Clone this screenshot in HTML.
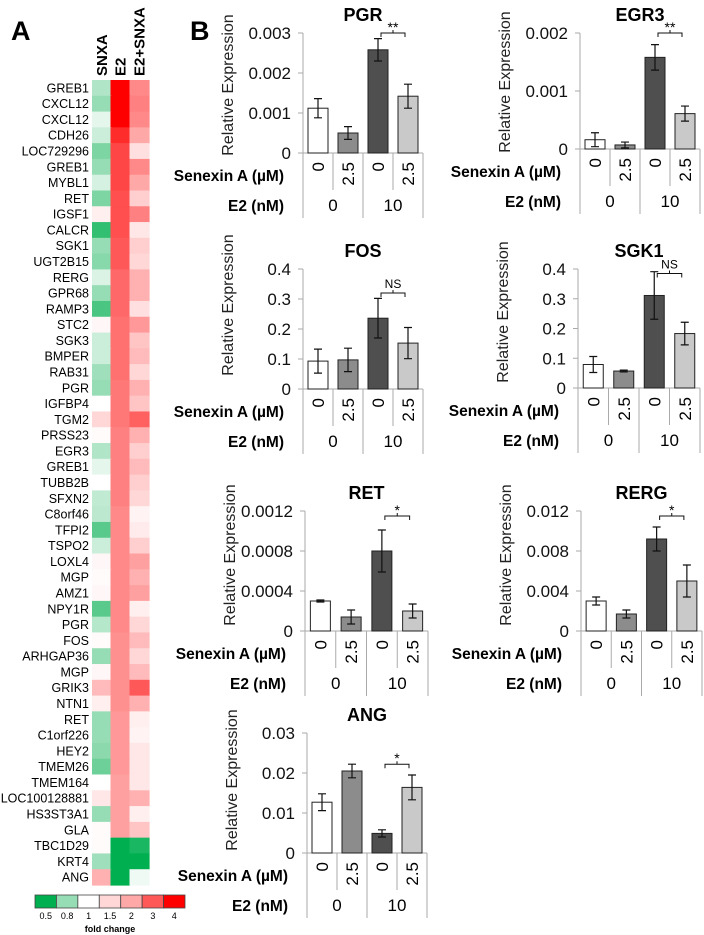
<!DOCTYPE html>
<html><head><meta charset="utf-8">
<style>
html,body{margin:0;padding:0;background:#fff;}
svg{display:block;font-family:"Liberation Sans",Arial,sans-serif;}
</style></head>
<body>
<svg id="fig" width="704" height="935" viewBox="0 0 704 935" xmlns="http://www.w3.org/2000/svg">
<text x="11" y="40" font-size="27" font-weight="bold">A</text>
<text x="190" y="40" font-size="27" font-weight="bold">B</text>
<g id="heat"></g>
<g id="charts"></g>
</svg>
<script>
const NS="http://www.w3.org/2000/svg";
// ---------- Heatmap data ----------
const heatGenes=["GREB1","CXCL12","CXCL12","CDH26","LOC729296","GREB1","MYBL1","RET","IGSF1","CALCR","SGK1","UGT2B15","RERG","GPR68","RAMP3","STC2","SGK3","BMPER","RAB31","PGR","IGFBP4","TGM2","PRSS23","EGR3","GREB1","TUBB2B","SFXN2","C8orf46","TFPI2","TSPO2","LOXL4","MGP","AMZ1","NPY1R","PGR","FOS","ARHGAP36","MGP","GRIK3","NTN1","RET","C1orf226","HEY2","TMEM26","TMEM164","LOC100128881","HS3ST3A1","GLA","TBC1D29","KRT4","ANG"];
const heatColumns=["SNXA","E2","E2+SNXA"];
const snxaFold=[0.85,0.8,0.95,0.9,0.75,0.8,0.92,0.75,1.2,0.6,0.8,0.77,0.93,0.8,0.65,1.1,0.9,0.9,0.82,0.8,1.0,1.5,1.05,0.85,0.95,1.0,0.88,0.87,0.68,0.9,1.1,1.05,1.1,0.68,0.86,1.05,0.8,1.1,1.8,1.2,0.8,0.8,0.78,0.72,1.0,1.3,0.8,1.05,1.05,0.82,1.9];
const e2Fold=[4,4,4,3.5,3.2,3.2,3.2,3.1,3.1,3.1,3.0,3.0,2.8,2.8,2.8,2.7,2.7,2.7,2.7,2.6,2.6,2.6,2.5,2.5,2.5,2.5,2.5,2.4,2.4,2.4,2.4,2.4,2.4,2.4,2.4,2.3,2.3,2.3,2.3,2.3,2.2,2.2,2.2,2.2,2.1,2.1,2.1,2.1,0.5,0.5,0.5];
const e2snxaFold=[2.4,2.5,2.4,2,1.4,2.4,2,1.6,2.5,1.3,1.6,1.5,1.9,1.9,1.4,2.2,1.7,1.8,1.5,1.9,1.7,2.9,1.9,1.6,1.8,1.6,1.5,1.15,1.25,1.6,2.1,1.9,2.1,1.2,1.5,1.8,1.5,1.8,3.0,1.9,1.2,1.15,1.3,1.3,1.3,1.9,1.2,1.7,0.55,0.5,0.97];
const legendStops=[0.5,0.8,1,1.5,2,3,4];
const legendLabels=["0.5","0.8","1","1.5","2","3","4"];
const stopColors=[[0,176,80],[150,220,180],[255,255,255],[255,215,215],[255,168,168],[255,88,88],[255,0,0]];

function foldColor(v){
  if(v<=legendStops[0]) return "rgb("+stopColors[0].join(",")+")";
  for(let i=1;i<legendStops.length;i++){
    if(v<=legendStops[i]){
      const t=(v-legendStops[i-1])/(legendStops[i]-legendStops[i-1]);
      const a=stopColors[i-1],b=stopColors[i];
      return "rgb("+a.map((c,k)=>Math.round(c+(b[k]-c)*t)).join(",")+")";
    }
  }
  return "rgb(255,0,0)";
}
function mk(tag,attrs,parent,txt){
  const e=document.createElementNS(NS,tag);
  for(const k in attrs) e.setAttribute(k,attrs[k]);
  if(txt!==undefined) e.textContent=txt;
  parent.appendChild(e);return e;
}
const heat=document.getElementById("heat");
const hTop=80,hRow=(885-80)/heatGenes.length,colX=[92,110.5,129.5],colW=19.5;
const series=[snxaFold,e2Fold,e2snxaFold];
heatColumns.forEach((c,j)=>{
  const t=mk("text",{x:0,y:0,"font-size":15,"font-weight":"bold",transform:`translate(${colX[j]+colW/2+5},76) rotate(-90)`},heat,c);
  
  
});
heatGenes.forEach((g,i)=>{
  const y=hTop+i*hRow;
  const t=mk("text",{x:89,y:y+hRow/2+4.5,"font-size":12.5,"text-anchor":"end"},heat,g);
  
  
  series.forEach((s,j)=>{
    const r=mk("rect",{x:colX[j],y:y,width:colW+0.6,height:hRow+0.6,fill:foldColor(s[i])},heat);
    
    
  });
});
// legend
const lg=mk("g",{},heat);


const lx=35,lw=150/legendStops.length;
legendStops.forEach((s,i)=>{
  const r=mk("rect",{x:lx+i*lw,y:895,width:lw,height:13,fill:foldColor(s),stroke:"#444","stroke-width":0.8},lg);
  
  
  const t=mk("text",{x:lx+i*lw+lw/2,y:919,"font-size":9,"text-anchor":"middle"},lg,legendLabels[i]);
  
  
});
const fc=mk("text",{x:110,y:932,"font-size":9,"font-weight":"bold","text-anchor":"middle"},lg,"fold change");



// ---------- Bar chart data ----------
const chartTitles=["PGR","EGR3","FOS","SGK1","RET","RERG","ANG"];
const senexinLabels=["0","2.5","0","2.5"];
const e2Labels=["0","10"];
const pgrValues=[0.00112,0.0005,0.00258,0.00142];
const pgrErrors=[0.00024,0.00016,0.00028,0.0003];
const pgrTicks=[0,0.001,0.002,0.003];
const pgrTickLabels=["0","0.001","0.002","0.003"];
const egr3Values=[0.00016,0.00007,0.00158,0.00061];
const egr3Errors=[0.00012,0.00005,0.00022,0.00013];
const egr3Ticks=[0,0.001,0.002];
const egr3TickLabels=["0","0.001","0.002"];
const fosValues=[0.093,0.097,0.236,0.153];
const fosErrors=[0.04,0.039,0.066,0.052];
const fosTicks=[0,0.1,0.2,0.3,0.4];
const fosTickLabels=["0","0.1","0.2","0.3","0.4"];
const sgk1Values=[0.079,0.057,0.311,0.183];
const sgk1Errors=[0.027,0.003,0.08,0.038];
const sgk1Ticks=[0,0.1,0.2,0.3,0.4];
const sgk1TickLabels=["0","0.1","0.2","0.3","0.4"];
const retValues=[0.0003,0.00014,0.0008,0.0002];
const retErrors=[0.00001,0.00007,0.00021,0.00007];
const retTicks=[0,0.0004,0.0008,0.0012];
const retTickLabels=["0","0.0004","0.0008","0.0012"];
const rergValues=[0.003,0.0017,0.0092,0.005];
const rergErrors=[0.0004,0.0004,0.0012,0.0016];
const rergTicks=[0,0.004,0.008,0.012];
const rergTickLabels=["0","0.004","0.008","0.012"];
const angValues=[0.0127,0.0205,0.0049,0.0164];
const angErrors=[0.0021,0.0017,0.0009,0.0031];
const angTicks=[0,0.01,0.02,0.03];
const angTickLabels=["0","0.01","0.02","0.03"];
const sigLabels=["**","**","NS","NS","*","*","*"];
const sigLevels=[0.003,0.002,0.32,0.385,0.00115,0.0115,0.0222];

const chartValues=[pgrValues,egr3Values,fosValues,sgk1Values,retValues,rergValues,angValues];
const chartErrors=[pgrErrors,egr3Errors,fosErrors,sgk1Errors,retErrors,rergErrors,angErrors];
const chartTicks=[pgrTicks,egr3Ticks,fosTicks,sgk1Ticks,retTicks,rergTicks,angTicks];
const chartTickLabels=[pgrTickLabels,egr3TickLabels,fosTickLabels,sgk1TickLabels,retTickLabels,rergTickLabels,angTickLabels];
// layout (pixels)
const layouts=[
 {x0:303,top:33,zero:153,w:120,ly:85},
 {x0:580,top:33,zero:149,w:120,ly:82},
 {x0:303,top:269,zero:389,w:120,ly:305},
 {x0:578,top:269,zero:388,w:122,ly:312},
 {x0:305,top:511,zero:631,w:123,ly:555},
 {x0:581,top:511,zero:631,w:121,ly:555},
 {x0:307,top:733,zero:853,w:120,ly:780}
];
const barFills=["#ffffff","#8c8c8c","#4f4f4f","#c9c9c9"];
const charts=document.getElementById("charts");
chartTitles.forEach((title,c)=>{
  const L=layouts[c],vals=chartValues[c],errs=chartErrors[c],ticks=chartTicks[c];
  const maxT=ticks[ticks.length-1];
  const yS=v=>L.zero-(v/maxT)*(L.zero-L.top);
  const slot=L.w/vals.length;
  const xC=i=>L.x0+slot*(i+0.5);
  const g=mk("g",{},charts);
  
  
  const tt=mk("text",{x:L.x0+L.w/2,y:L.top-12,"font-size":18,"font-weight":"bold","text-anchor":"middle"},g,title);
  
  
  const yt=mk("text",{x:0,y:0,"font-size":16,fill:"#222","text-anchor":"middle",transform:`translate(${L.x0-70},${L.ly}) rotate(-90)`},g,"Relative Expression");
  
  
  const ax=mk("line",{x1:L.x0,y1:L.top,x2:L.x0,y2:L.zero+65,stroke:"#aaa","stroke-width":1},g);
  
  
  const xa=mk("line",{x1:L.x0-5,y1:L.zero,x2:L.x0+L.w,y2:L.zero,stroke:"#aaa","stroke-width":1},g);
  
  
  ticks.forEach((t,k)=>{
    const y=yS(t);
    const tm=mk("line",{x1:L.x0-5,y1:y,x2:L.x0,y2:y,stroke:"#aaa"},g);
    
    
    const tl=mk("text",{x:L.x0-12,y:y+6,"font-size":17,"text-anchor":"end",fill:"#111"},g,chartTickLabels[c][k]);
    
    
  });
  vals.forEach((v,i)=>{
    const bw=20,x=xC(i)-bw/2;
    const b=mk("rect",{x:x,y:yS(v),width:bw,height:L.zero-yS(v),fill:barFills[i],stroke:"#222","stroke-width":1},g);
    
    
    const e=errs[i],hi=yS(v+e),lo=yS(Math.max(0,v-e));
    const eb=mk("path",{d:`M${xC(i)} ${hi}V${lo}M${xC(i)-4} ${hi}H${xC(i)+4}M${xC(i)-4} ${lo}H${xC(i)+4}`,stroke:"#111","stroke-width":1.2,fill:"none"},g);
    
    
    const xr=L.x0+slot*(i+1);
    const dv=mk("line",{x1:xr,y1:L.zero,x2:xr,y2:L.zero+(i%2===0?37:65),stroke:"#aaa"},g);
    
    
    const sl=mk("text",{x:0,y:0,"font-size":17,"text-anchor":"end",transform:`translate(${xC(i)+6},${L.zero+9}) rotate(-90)`},g,senexinLabels[i]);
    
    
  });
  e2Labels.forEach((lab,k)=>{
    const t=mk("text",{x:L.x0+L.w/4+k*L.w/2,y:L.zero+58,"font-size":17,"text-anchor":"middle"},g,lab);
    
    
  });
  const s1=mk("text",{x:L.x0-19,y:L.zero+28,"font-size":15.5,"font-weight":"bold","text-anchor":"end"},g,"Senexin A (µM)");
  
  
  const s2=mk("text",{x:L.x0-19,y:L.zero+58,"font-size":15.5,"font-weight":"bold","text-anchor":"end"},g,"E2 (nM)");
  
  
  const by=yS(sigLevels[c]),bx1=xC(2)+3,bx2=xC(3)-3;
  const br=mk("path",{d:`M${bx1} ${by+4}V${by}H${bx2}V${by+4}M${(bx1+bx2)/2} ${by}V${by-3}`,stroke:"#111","stroke-width":1,fill:"none"},g);
  
  
  const isNS=sigLabels[c]==="NS";
  const sg=mk("text",{x:(bx1+bx2)/2,y:by-(isNS?5:1),"font-size":isNS?12:14,"text-anchor":"middle"},g,sigLabels[c]);
  
  
});
</script>
</body></html>
